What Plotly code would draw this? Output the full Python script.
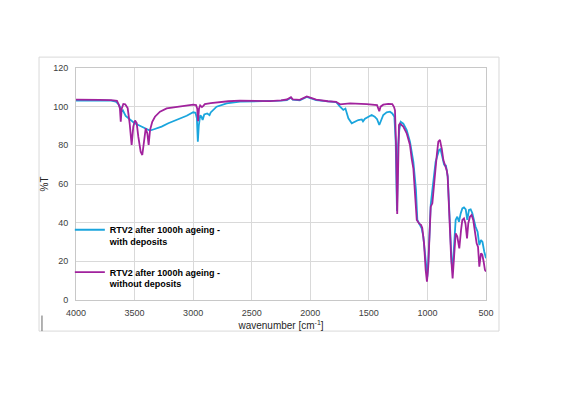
import plotly.graph_objects as go

# FTIR spectra (wavenumber in cm-1, %T)
WN_WITH = [4000, 3900, 3800, 3700, 3660, 3640, 3625, 3615, 3600, 3576, 3553, 3525,
           3500, 3468, 3439, 3410, 3388, 3370, 3340, 3300, 3269, 3212, 3155, 3112,
           3055, 3000, 2980, 2968, 2960, 2952, 2940, 2930, 2919, 2905, 2880, 2860,
           2850, 2800, 2714, 2600, 2450, 2344, 2250, 2200, 2165, 2150, 2090, 2030,
           2000, 1950, 1850, 1780, 1746, 1718, 1700, 1675, 1646, 1618, 1590, 1560,
           1550, 1533, 1505, 1476, 1450, 1430, 1411, 1395, 1377, 1348, 1320, 1300,
           1282, 1271, 1260, 1250, 1240, 1228, 1206, 1177, 1149, 1120, 1106, 1098,
           1086, 1070, 1049, 1035, 1021, 1009, 1001, 993, 981, 972, 958, 944, 930,
           916, 900, 888, 878, 868, 858, 850, 842, 835, 827, 816, 805, 793, 785,
           774, 759, 745, 731, 716, 702, 688, 673, 660, 645, 631, 617, 603, 589,
           572, 557, 543, 530, 515, 500]
T_WITH = [103.2, 103.3, 103.2, 103.1, 102.6, 101.5, 100.0, 97.5, 98.1, 95.2, 94.0, 92.2,
          91.4, 90.5, 89.7, 89.0, 88.3, 87.6, 88.2, 89.0, 89.7, 91.4, 92.8, 94.0,
          95.3, 97.1, 96.8, 94.0, 81.9, 90.0, 95.5, 95.0, 93.1, 96.0, 96.5, 95.6,
          97.0, 100.0, 101.7, 102.6, 102.8, 102.6, 103.1, 103.4, 104.6, 103.6, 103.3, 105.0,
          104.4, 103.4, 102.7, 102.4, 100.0, 98.3, 99.0, 94.0, 91.4, 92.2, 93.1, 93.4,
          92.4, 93.8, 94.8, 95.7, 94.8, 93.5, 90.5, 93.5, 95.7, 97.1, 97.4, 96.5,
          94.8, 82.0, 46.0, 80.0, 88.0, 92.2, 91.2, 87.9, 81.9, 71.5, 63.0, 57.0,
          41.4, 39.5, 37.1, 32.8, 22.4, 13.8, 12.0, 19.0, 41.4, 49.1, 56.9, 65.5, 71.5,
          74.5, 77.6, 78.0, 75.0, 73.0, 70.0, 69.5, 69.5, 67.0, 64.0, 50.0, 32.8, 19.0, 15.5,
          27.6, 41.4, 43.1, 40.5, 44.8, 47.4, 47.9, 46.9, 41.4, 46.6, 46.9, 45.0, 41.4, 37.9,
          35.3, 28.4, 31.0, 30.0, 25.0, 21.6]

WN_WITHOUT = [4000, 3900, 3800, 3700, 3650, 3635, 3625, 3618, 3610, 3596, 3580, 3559,
              3542, 3525, 3511, 3496, 3482, 3468, 3448, 3434, 3420, 3405, 3391, 3380,
              3368, 3349, 3326, 3283, 3226, 3155, 3112, 3030, 3000, 2975, 2965, 2958,
              2950, 2940, 2925, 2915, 2900, 2850, 2800, 2700, 2600, 2450, 2344, 2250,
              2200, 2165, 2150, 2090, 2030, 2000, 1950, 1850, 1780, 1746, 1661, 1518,
              1462, 1430, 1411, 1400, 1377, 1334, 1300, 1285, 1277, 1268, 1258, 1250,
              1243, 1235, 1206, 1177, 1149, 1134, 1120, 1106, 1091, 1070, 1055, 1044,
              1029, 1015, 1004, 993, 981, 972, 958, 944, 929, 920, 907, 893, 884, 878,
              864, 850, 844, 835, 827, 813, 798, 785, 770, 759, 745, 728, 713, 702,
              688, 675, 662, 651, 637, 623, 609, 594, 580, 568, 557, 543, 532, 520,
              509, 500]
T_WITHOUT = [103.6, 103.7, 103.5, 103.4, 103.0, 101.0, 99.0, 92.2, 99.0, 101.4, 101.2, 99.3,
             91.4, 80.2, 89.7, 92.8, 91.5, 84.5, 76.7, 75.0, 81.0, 88.8, 86.2, 80.2,
             87.9, 92.2, 94.8, 97.4, 99.1, 99.8, 100.2, 100.9, 101.0, 100.8, 99.0, 92.5,
             99.0, 100.7, 99.8, 100.3, 101.3, 101.8, 102.2, 102.8, 103.1, 103.0, 102.9, 103.3,
             103.7, 104.9, 103.8, 103.5, 105.3, 104.7, 103.6, 102.8, 102.5, 101.2, 101.7, 101.3,
             100.9, 100.8, 97.6, 100.0, 101.0, 101.4, 101.3, 99.8, 98.1, 80.2, 44.5, 75.0,
             90.5, 91.2, 89.7, 86.2, 80.2, 73.0, 68.0, 55.0, 41.4, 39.5, 38.9, 37.2,
             29.3, 15.5, 9.5, 17.2, 37.9, 48.3, 50.0, 60.3, 69.0, 75.0, 81.9, 82.8, 80.0, 78.4,
             72.4, 70.0, 69.0, 67.0, 63.8, 41.4, 22.4, 11.2, 22.4, 34.5, 32.8, 26.7, 36.2, 41.4,
             42.2, 39.5, 31.9, 39.7, 43.1, 44.0, 41.4, 35.3, 29.3, 27.5, 17.2, 24.1, 23.5, 19.8,
             15.5, 14.7]

NAME_WITH = "RTV2 after 1000h ageing -<br>with deposits"
NAME_WITHOUT = "RTV2 after 1000h ageing -<br>without deposits"

CYAN = "#1aa5dd"
PURPLE = "#a1229d"
FONT = "Liberation Sans, Arial, sans-serif"

fig = go.Figure()
fig.add_trace(go.Scatter(x=WN_WITH, y=T_WITH, mode="lines", name=NAME_WITH,
                         legendgroup="a", line=dict(color=CYAN, width=1.8)))
fig.add_trace(go.Scatter(x=WN_WITHOUT, y=T_WITHOUT, mode="lines", name=NAME_WITHOUT,
                         legendgroup="b", line=dict(color=PURPLE, width=1.8)))

grid = "#d9d9d9"
fig.update_xaxes(
    range=[4000, 500], tickmode="linear", tick0=500, dtick=500,
    showgrid=True, gridcolor=grid, gridwidth=1, zeroline=False,
    showline=True, linecolor="#c8c8c8", linewidth=1, mirror=True,
    ticks="outside", ticklen=4, tickcolor="rgba(0,0,0,0)",
    tickfont=dict(family=FONT, size=9, color="#404040"),
    title=dict(text="wavenumber [cm<sup>-1</sup>]", standoff=5,
               font=dict(family=FONT, size=10, color="#262626")),
)
fig.update_yaxes(
    range=[0, 120], tickmode="linear", tick0=0, dtick=20,
    showgrid=True, gridcolor=grid, gridwidth=1, zeroline=False,
    showline=True, linecolor="#c8c8c8", linewidth=1, mirror=True,
    ticks="outside", ticklen=5, tickcolor="rgba(0,0,0,0)",
    tickfont=dict(family=FONT, size=9, color="#404040"),
    title=dict(text="%T", standoff=2,
               font=dict(family=FONT, size=10, color="#262626")),
)

# outer chart frame and the little dark stroke at its lower left
fig.add_shape(type="rect", xref="paper", yref="paper",
              x0=-0.0902, x1=1.0317, y0=-0.134, y1=1.047,
              line=dict(color="#d9d9d9", width=1), layer="below")
fig.add_shape(type="line", xref="paper", yref="paper",
              x0=-0.083, x1=-0.083, y0=-0.067, y1=-0.134,
              line=dict(color="#666666", width=1))

# the page body adds an 8px offset, so the figure is sized to fit inside it
fig.update_layout(
    width=557, height=392,
    margin=dict(l=68, r=79, t=60, b=100, autoexpand=False),
    paper_bgcolor="white", plot_bgcolor="white",
    font=dict(family=FONT, size=9, color="#404040"),
    showlegend=True,
    legend=dict(x=-0.015, y=0.356, xanchor="left", yanchor="top",
                bgcolor="rgba(0,0,0,0)", borderwidth=0, valign="top",
                tracegroupgap=16, itemwidth=30,
                font=dict(family=FONT, size=9, color="#000000", weight="bold")),
)

fig.write_html("out.html")
